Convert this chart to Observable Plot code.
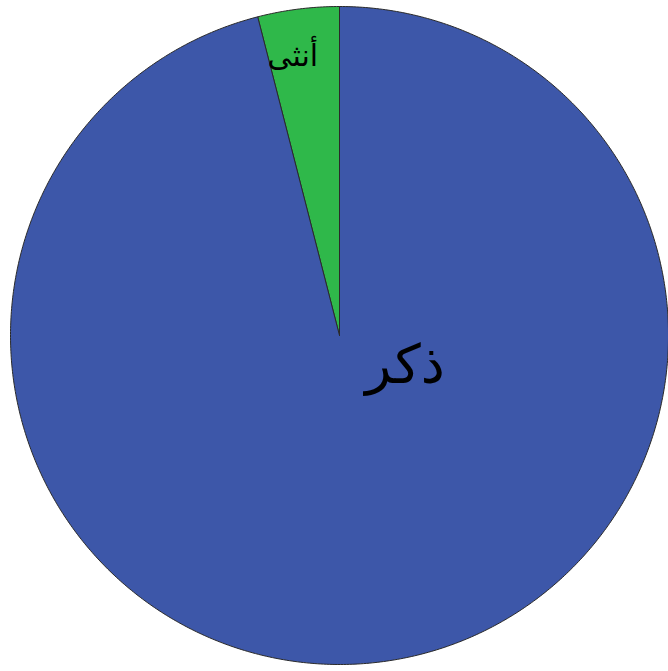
<!DOCTYPE html>
<html>
<head>
<meta charset="utf-8">
<script src="https://cdn.jsdelivr.net/npm/d3@7"></script>
<script src="https://cdn.jsdelivr.net/npm/@observablehq/plot@0.6"></script>
<style>
  html, body { margin: 0; padding: 0; background: #ffffff; }
  #chart svg { display: block; }
</style>
</head>
<body>
<div id="chart"></div>
<script>
// Data
const categories = ["أنثى", "ذكر"];
const values = [4, 96];
const colors = ["#2fb84a", "#3d57a9"];

// Layout (pixels)
const W = 668, H = 671;
const cx = 339, cy = 335, R = 329;

const total = d3.sum(values);
const femaleAngle = values[0] / total * 2 * Math.PI;
const slices = [
  {cat: categories[0], start: -femaleAngle, end: 0},
  {cat: categories[1], start: 0, end: 2 * Math.PI - femaleAngle}
];

const pts = [];
for (const s of slices) {
  pts.push({cat: s.cat, x: 0, y: 0});
  const n = Math.max(4, Math.ceil((s.end - s.start) / (Math.PI / 360)));
  for (let i = 0; i <= n; i++) {
    const a = s.start + (s.end - s.start) * i / n;
    pts.push({cat: s.cat, x: Math.sin(a), y: Math.cos(a)});
  }
  pts.push({cat: s.cat, x: 0, y: 0});
}

// Label placement (angle from top clockwise, fraction of radius, font size)
const labelLayout = {
  "أنثى": {angle: -9.5 * Math.PI / 180, r: 0.86, size: 30},
  "ذكر": {angle: 115 * Math.PI / 180, r: 0.22, size: 54}
};
const labels = categories.map(c => ({
  cat: c,
  x: Math.sin(labelLayout[c].angle) * labelLayout[c].r,
  y: Math.cos(labelLayout[c].angle) * labelLayout[c].r,
  size: labelLayout[c].size
}));

const chart = Plot.plot({
  width: W,
  height: H,
  margin: 0,
  style: {background: "#ffffff", overflow: "visible"},
  x: {domain: [-cx / R, (W - cx) / R], range: [0, W], axis: null},
  y: {domain: [-(H - cy) / R, cy / R], range: [H, 0], axis: null},
  color: {domain: categories, range: colors},
  marks: [
    Plot.line(pts, {
      x: "x", y: "y", z: "cat",
      fill: "cat",
      stroke: "#2a2a2a",
      strokeWidth: 1,
      strokeLinejoin: "round",
      curve: "linear"
    }),
    ...labels.map(l => Plot.text([l], {
      x: "x", y: "y", text: "cat",
      fill: "#000000",
      fontSize: l.size,
      fontFamily: "DejaVu Sans",
      textAnchor: "middle"
    }))
  ]
});
document.getElementById("chart").appendChild(chart);
</script>
</body>
</html>
